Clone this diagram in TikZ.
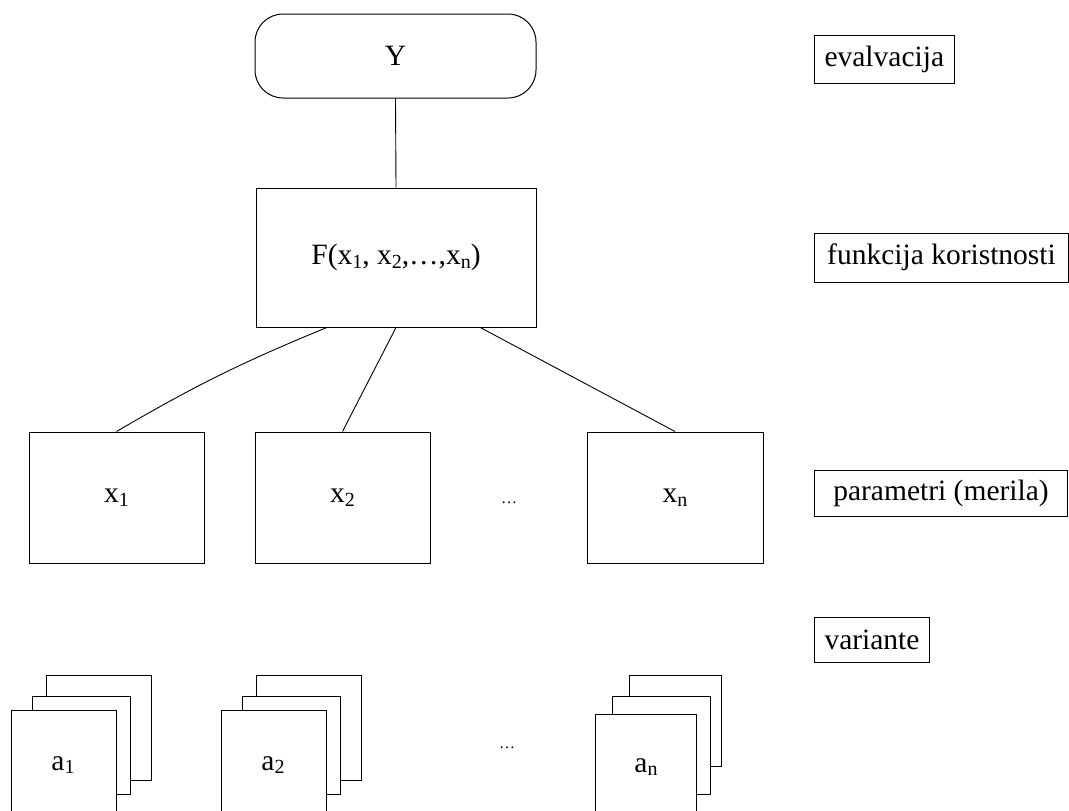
\documentclass[tikz,border=0pt]{standalone}
\usepackage{fontspec}
\setmainfont{Liberation Serif}
\usetikzlibrary{calc}
\newcommand{\sbs}[1]{\raisebox{-3.5pt}{\fontsize{20}{20}\selectfont #1}}
\begin{document}
\begin{tikzpicture}[x=1pt,y=-1pt,
  every node/.style={font=\fontsize{29.5}{34}\selectfont},
  box/.style={draw, line width=1pt, fill=white, inner sep=0pt},
  lab/.style={draw, line width=1pt, inner ysep=0pt, inner xsep=10pt, minimum height=48pt},
  sheet/.style={draw, line width=1pt, fill=white},
  conn/.style={line width=0.9pt},
  dots/.style={font=\fontsize{16}{16}\selectfont, inner sep=0pt}]
\useasboundingbox (0,0) rectangle (1069,811);

% top evaluation
\node[box, rounded corners=28pt, minimum width=281pt, minimum height=84pt] (Y) at (395.5,56) {Y};
\node[box, minimum width=280pt, minimum height=139pt] (F) at (396,257.5) {F(x\sbs{1}, x\sbs{2},\ldots,x\sbs{n})};

% parameters
\node[box, minimum width=175pt, minimum height=131pt] (x1) at (116.5,497.5) {x\sbs{1}};
\node[box, minimum width=175pt, minimum height=131pt] (x2) at (342.5,497.5) {x\sbs{2}};
\node[box, minimum width=176pt, minimum height=131pt] (xn) at (675,497.5) {x\sbs{n}};
\node[dots] (d1) at (509,503) {\ldots};

% connectors
\draw[conn] (Y.south) -- (F.north);
\draw[conn] ($(F.south west)!0.254!(F.south east)$) to[bend right=4] (x1.north);
\draw[conn] (F.south) -- (x2.north);
\draw[conn] ($(F.south west)!0.8!(F.south east)$) -- (xn.north);

% variants stacks
\draw[sheet] (46,675) rectangle (151,780);
\draw[sheet] (32,696) rectangle (130,794);
\node[box, minimum width=105pt, minimum height=105pt] (a1) at (63.5,762.5) {};
\node at (63,765) {a\sbs{1}};

\draw[sheet] (256,675) rectangle (361,780);
\draw[sheet] (242,696) rectangle (340,794);
\node[box, minimum width=105pt, minimum height=105pt] (a2) at (273.5,762.5) {};
\node at (273,765) {a\sbs{2}};

\draw[sheet] (629,675) rectangle (721,766);
\draw[sheet] (612,696) rectangle (710,794);
\node[box, minimum width=101pt, minimum height=101pt] (an) at (645.5,764.5) {};
\node at (646,767) {a\sbs{n}};

\node[dots] (d2) at (507,748) {\ldots};

% level labels
\node[lab, anchor=west] (ev) at (814,59) {evalvacija};
\node[lab, anchor=west, minimum width=254pt, minimum height=49pt] (fk) at (814,257.5) {funkcija koristnosti};
\node[lab, anchor=west, minimum width=253pt, minimum height=46pt] (pm) at (814,493) {parametri (merila)};
\node[lab, anchor=west, minimum height=45pt] (va) at (814,640) {variante};
\end{tikzpicture}
\end{document}
